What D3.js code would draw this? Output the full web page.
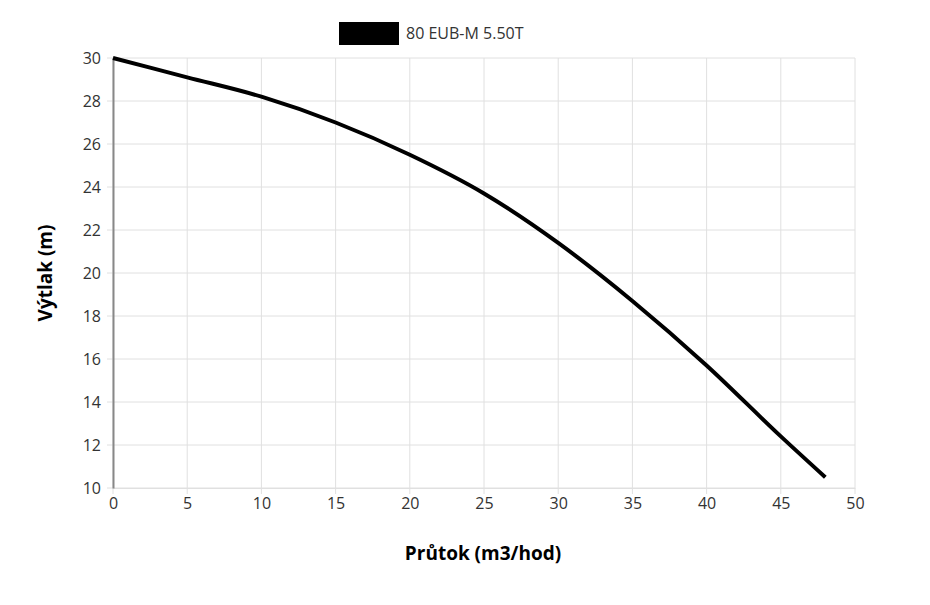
<!DOCTYPE html>
<html><head><meta charset="utf-8">
<script src="https://cdn.jsdelivr.net/npm/d3@7"></script>
<style>body{margin:0;background:#fff;font-family:"Open Sans",sans-serif}</style>
</head><body><div id="chart"></div>
<script>
// curve
let flow = [0, 5, 10, 15, 20, 25, 30, 35, 40, 45, 48];
let head = [30, 29.1, 28.2, 27, 25.5, 23.7, 21.4, 18.7, 15.7, 12.4, 10.5];
let xTicks = [0, 5, 10, 15, 20, 25, 30, 35, 40, 45, 50];
let yTicks = [10, 12, 14, 16, 18, 20, 22, 24, 26, 28, 30];
let seriesName = "80 EUB-M 5.50T";

let margin = {top: 58, left: 113};
let width = 742, height = 430;

let svg = d3.select("#chart").append("svg").attr("width", 930).attr("height", 605);
let g = svg.append("g").attr("transform", `translate(${margin.left},${margin.top})`);

let x = d3.scaleLinear().domain([0, 50]).range([0, width]);
let y = d3.scaleLinear().domain([10, 30]).range([height, 0]);

// grid
g.selectAll(".gx").data(xTicks).enter().append("line")
  .attr("x1", d => x(d)).attr("x2", d => x(d)).attr("y1", 0).attr("y2", height + 6)
  .attr("stroke", "#e0e0e0");
g.selectAll(".gy").data(yTicks).enter().append("line")
  .attr("x1", -6).attr("x2", width).attr("y1", d => y(d)).attr("y2", d => y(d))
  .attr("stroke", "#e0e0e0");

let xAxis = g.append("g").attr("transform", `translate(0,${height})`)
  .call(d3.axisBottom(x).tickValues(xTicks).tickSize(0).tickPadding(10));
let yAxis = g.append("g").call(d3.axisLeft(y).tickValues(yTicks).tickSize(0).tickPadding(12));
[xAxis, yAxis].forEach(a => {
  a.selectAll("text").attr("font-size", "16px").attr("fill", "#333").attr("font-family", "Open Sans");
});
xAxis.select(".domain").attr("stroke", "#e0e0e0");
yAxis.select(".domain").attr("stroke", "#888").attr("stroke-width", 2);

// curve
let pts = flow.map((f, i) => [f, head[i]]);
g.append("path").datum(pts)
  .attr("d", d3.line().x(d => x(d[0])).y(d => y(d[1])).curve(d3.curveMonotoneX))
  .attr("fill", "none").attr("stroke", "#000").attr("stroke-width", 4);

// titles
svg.append("text").attr("x", margin.left + width / 2 - 1).attr("y", 560)
  .attr("text-anchor", "middle").attr("font-size", "19px").attr("font-weight", "bold")
  .text("Průtok (m3/hod)");
svg.append("text").attr("transform", `translate(52,${margin.top + height / 2}) rotate(-90)`)
  .attr("text-anchor", "middle").attr("font-size", "19px").attr("font-weight", "bold")
  .text("Výtlak (m)");

// legend
svg.append("rect").attr("x", 339).attr("y", 22).attr("width", 60).attr("height", 23).attr("fill", "#000");
svg.append("text").attr("x", 406).attr("y", 39).attr("font-size", "16px").attr("fill", "#333").text(seriesName);
</script></body></html>
